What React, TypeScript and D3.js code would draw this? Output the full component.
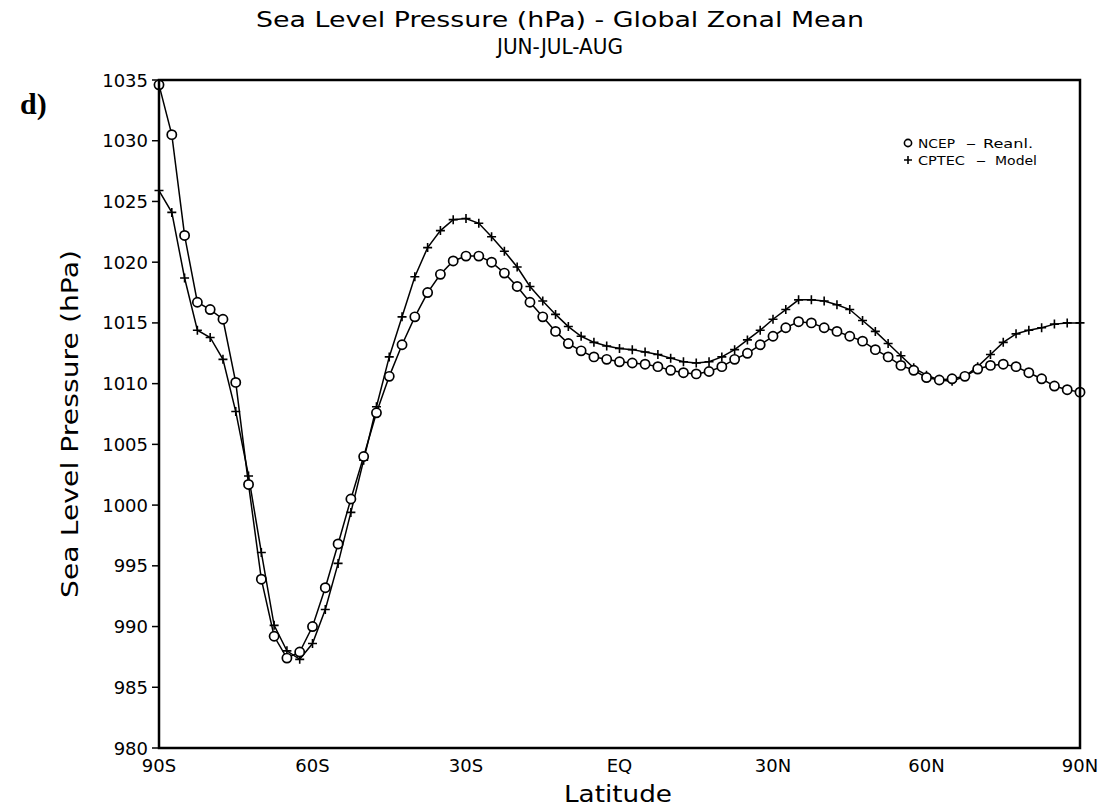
import React from "react";
import * as d3 from "d3";

const latitudes: number[] = d3.range(-90, 90.001, 2.5);

const ncep: number[] = [
  1034.6, 1030.5, 1022.2, 1016.7, 1016.1, 1015.3, 1010.1, 1001.7, 993.9, 989.2,
  987.4, 987.9, 990.0, 993.2, 996.8, 1000.5, 1004.0, 1007.6, 1010.6,
  1013.2, 1015.5, 1017.5, 1019.0, 1020.1, 1020.5, 1020.5, 1020.0, 1019.1, 1018.0,
  1016.7, 1015.5, 1014.3, 1013.3, 1012.7, 1012.2, 1012.0, 1011.8,
  1011.7, 1011.6, 1011.4, 1011.1, 1010.9, 1010.8, 1011.0, 1011.4, 1012.0, 1012.5,
  1013.2, 1013.9, 1014.6, 1015.1, 1015.0, 1014.6, 1014.3,
  1013.9, 1013.5, 1012.8, 1012.2, 1011.5, 1011.1, 1010.5, 1010.3, 1010.4, 1010.6,
  1011.2, 1011.5, 1011.6, 1011.4, 1010.9, 1010.4, 1009.8, 1009.5, 1009.3,
];

const cptec: number[] = [
  1025.9, 1024.1, 1018.7, 1014.4, 1013.8, 1012.0, 1007.7, 1002.4, 996.1, 990.1,
  988.0, 987.3, 988.6, 991.4, 995.2, 999.4, 1003.7, 1008.1, 1012.2,
  1015.5, 1018.8, 1021.2, 1022.6, 1023.5, 1023.6, 1023.2, 1022.1, 1020.9, 1019.6,
  1018.0, 1016.8, 1015.7, 1014.7, 1013.9, 1013.4, 1013.1, 1012.9,
  1012.8, 1012.6, 1012.4, 1012.1, 1011.8, 1011.7, 1011.8, 1012.2, 1012.8, 1013.6,
  1014.4, 1015.3, 1016.1, 1016.9, 1016.9, 1016.8, 1016.5,
  1016.1, 1015.2, 1014.3, 1013.3, 1012.3, 1011.3, 1010.7, 1010.3, 1010.2, 1010.6,
  1011.4, 1012.4, 1013.4, 1014.1, 1014.4, 1014.6, 1014.9, 1015.0, 1015.0,
];

const yTicks: number[] = [980, 985, 990, 995, 1000, 1005, 1010, 1015, 1020, 1025, 1030, 1035];
const xTicks: number[] = [-90, -60, -30, 0, 30, 60, 90];
const xTickLabels: string[] = ["90S", "60S", "30S", "EQ", "30N", "60N", "90N"];

const title1 = "Sea Level Pressure (hPa) - Global Zonal Mean";
const title2 = "JUN-JUL-AUG";
const yTitle = "Sea Level Pressure (hPa)";
const xTitle = "Latitude";

const W = 1107;
const H = 808;
const L = 159;
const R = 1080;
const T = 80;
const B = 748;

const FONT = "'DejaVu Sans', 'Liberation Sans', sans-serif";

export default function App() {
  const x = d3.scaleLinear().domain([-90, 90]).range([L, R]);
  const y = d3.scaleLinear().domain([980, 1035]).range([B, T]);

  const line = d3
    .line<number>()
    .x((_, i) => x(latitudes[i]))
    .y((d) => y(d));

  const plus = (cx: number, cy: number, s = 4.5) =>
    `M${cx - s},${cy}H${cx + s}M${cx},${cy - s}V${cy + s}`;

  return (
    <svg
      width={W}
      height={H}
      style={{ position: "absolute", left: 0, top: 0, background: "#fff" }}
      fontFamily={FONT}
    >
      <rect x={0} y={0} width={W} height={H} fill="#fff" />
      {/* titles */}
      <text x={560} y={27} textAnchor="middle" fontSize={22} textLength={608} lengthAdjust="spacingAndGlyphs" fill="#000">
        {title1}
      </text>
      <text x={560} y={54} textAnchor="middle" fontSize={22} textLength={126} lengthAdjust="spacingAndGlyphs" fill="#000">
        {title2}
      </text>
      <text x={20} y={114} fontSize={30} fontWeight="bold" fontFamily="'Liberation Serif', 'DejaVu Serif', serif" fill="#000">
        d)
      </text>

      {/* y ticks */}
      {yTicks.map((t) => (
        <g key={t}>
          <line x1={L - 7} x2={L} y1={y(t)} y2={y(t)} stroke="#000" strokeWidth={1.5} />
          <text x={L - 11} y={y(t) + 6.5} textAnchor="end" fontSize={18} fill="#000">
            {t}
          </text>
        </g>
      ))}
      {/* x tick labels */}
      {xTicks.map((t, i) => (
        <text key={t} x={x(t)} y={772} textAnchor="middle" fontSize={18} fill="#000">
          {xTickLabels[i]}
        </text>
      ))}
      <text x={618} y={802} textAnchor="middle" fontSize={23} textLength={108} lengthAdjust="spacingAndGlyphs" fill="#000">
        {xTitle}
      </text>
      <text
        transform={`translate(78,${(T + B) / 2 + 10}) rotate(-90)`}
        textAnchor="middle"
        fontSize={23}
        textLength={348}
        lengthAdjust="spacingAndGlyphs"
        fill="#000"
      >
        {yTitle}
      </text>

      {/* series lines */}
      <path d={line(ncep) || ""} fill="none" stroke="#000" strokeWidth={1.5} />
      <path d={line(cptec) || ""} fill="none" stroke="#000" strokeWidth={1.5} />
      {/* markers */}
      {cptec.map((v, i) => (
        <path key={"p" + i} d={plus(x(latitudes[i]), y(v))} stroke="#000" strokeWidth={1.6} fill="none" />
      ))}
      {ncep.map((v, i) => (
        <circle key={"c" + i} cx={x(latitudes[i])} cy={y(v)} r={4.6} fill="#fff" stroke="#000" strokeWidth={1.7} />
      ))}

      {/* frame */}
      <rect x={L} y={T} width={R - L} height={B - T} fill="none" stroke="#000" strokeWidth={2.5} />

      {/* legend */}
      <circle cx={908} cy={143} r={3.6} fill="#fff" stroke="#000" strokeWidth={1.6} />
      <text x={918} y={147.5} fontSize={12.5} textLength={37} lengthAdjust="spacingAndGlyphs" fill="#000">NCEP</text>
      <text x={966} y={147.5} fontSize={12.5} textLength={10} lengthAdjust="spacingAndGlyphs" fill="#000">–</text>
      <text x={983} y={147.5} fontSize={12.5} textLength={50} lengthAdjust="spacingAndGlyphs" fill="#000">Reanl.</text>
      <path d={plus(908, 160, 4)} stroke="#000" strokeWidth={1.6} fill="none" />
      <text x={918} y={164.5} fontSize={12.5} textLength={47} lengthAdjust="spacingAndGlyphs" fill="#000">CPTEC</text>
      <text x={976} y={164.5} fontSize={12.5} textLength={10} lengthAdjust="spacingAndGlyphs" fill="#000">–</text>
      <text x={995} y={164.5} fontSize={12.5} textLength={42} lengthAdjust="spacingAndGlyphs" fill="#000">Model</text>
    </svg>
  );
}
